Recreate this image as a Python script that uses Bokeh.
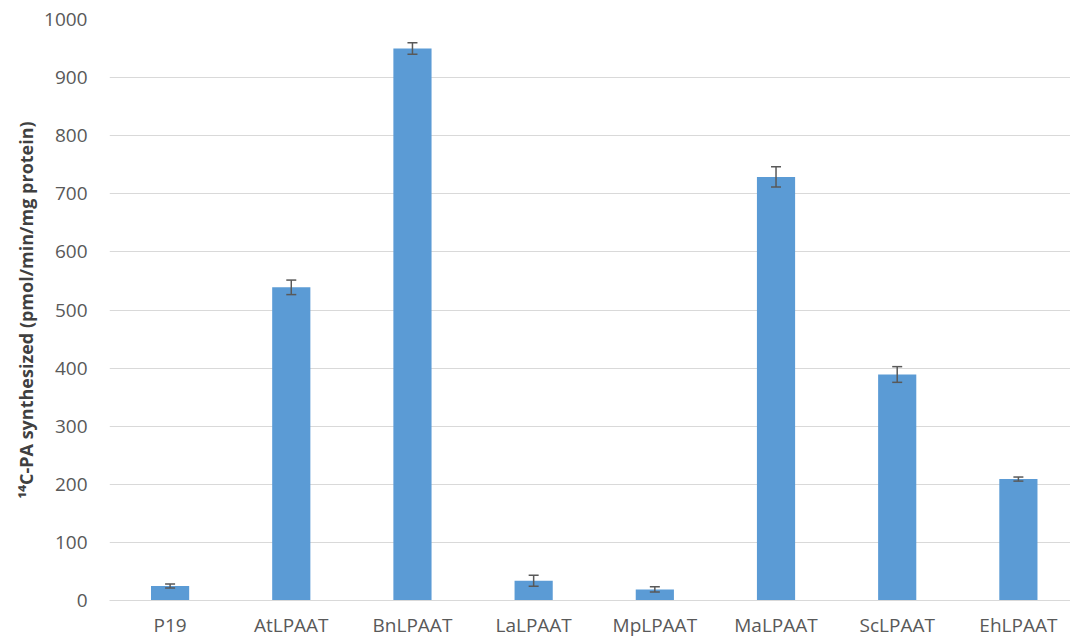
from bokeh.plotting import figure
from bokeh.models import ColumnDataSource, Whisker, TeeHead, FixedTicker, Range1d
from bokeh.embed import file_html
from bokeh.resources import INLINE

categories = ["P19", "AtLPAAT", "BnLPAAT", "LaLPAAT", "MpLPAAT", "MaLPAAT", "ScLPAAT", "EhLPAAT"]
values = [25, 539, 950, 34, 19, 729, 389, 209]
errors = [3.5, 12.5, 10, 9.5, 4.5, 17.5, 13.5, 3.5]
y_ticks = [0, 100, 200, 300, 400, 500, 600, 700, 800, 900, 1000]

positions = list(range(1, len(categories) + 1))
src = ColumnDataSource(dict(
    x=positions, val=values,
    upper=[v + e for v, e in zip(values, errors)],
    lower=[v - e for v, e in zip(values, errors)],
))

p = figure(x_range=Range1d(0.5, 8.43), y_range=Range1d(0, 1000),
           width=1070, height=640, output_backend="svg", toolbar_location=None,
           min_border_left=109, min_border_right=0, min_border_top=19, min_border_bottom=40)

p.vbar(x="x", top="val", width=0.315, source=src, fill_color="#5b9bd5", line_color=None)

w = Whisker(base="x", upper="upper", lower="lower", source=src, line_color="#595959", line_width=1.5,
            level="overlay",
            upper_head=TeeHead(size=10, line_color="#595959", line_width=1.5),
            lower_head=TeeHead(size=10, line_color="#595959", line_width=1.5))
p.add_layout(w)

p.outline_line_color = None
p.xgrid.grid_line_color = None
p.ygrid.grid_line_color = "#d9d9d9"
p.ygrid.grid_line_width = 1.2
p.yaxis.ticker = FixedTicker(ticks=y_ticks)
p.xaxis.ticker = FixedTicker(ticks=positions)
p.xaxis.major_label_overrides = {i: c for i, c in zip(positions, categories)}

for ax in (p.xaxis, p.yaxis):
    ax.major_label_text_font = "Open Sans"
    ax.major_label_text_font_size = "19px"
    ax.major_label_text_color = "#595959"
    ax.major_tick_line_color = None
    ax.minor_tick_line_color = None
    ax.major_tick_out = 0
    ax.major_tick_in = 0
    ax.minor_tick_out = 0

p.yaxis.axis_line_color = None
p.xaxis.axis_line_color = "#d9d9d9"
p.xaxis.axis_line_width = 1.2
p.xaxis.major_label_standoff = 11
p.yaxis.major_label_standoff = 22

p.yaxis.axis_label = "¹⁴C-PA synthesized (pmol/min/mg protein)"
p.yaxis.axis_label_text_font = "Open Sans"
p.yaxis.axis_label_text_font_style = "bold"
p.yaxis.axis_label_text_font_size = "18px"
p.yaxis.axis_label_text_color = "#404040"
p.yaxis.axis_label_standoff = 3

open("out.html", "w").write(file_html(p, INLINE))
